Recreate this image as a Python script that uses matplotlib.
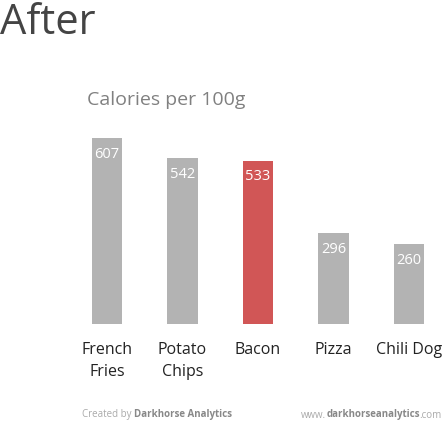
import matplotlib.pyplot as plt

# Chart data
foods = ['French\nFries', 'Potato\nChips', 'Bacon', 'Pizza', 'Chili Dog']
calories = [607, 542, 533, 296, 260]
highlight = 'Bacon'

plt.rcParams['font.family'] = ['Open Sans', 'DejaVu Sans']

fig = plt.figure(figsize=(4.43, 4.26), dpi=100)
ax = fig.add_axes([0.1563, 0.2394, 0.8437, 0.4671])

colors = ['#d15656' if f == highlight else '#b3b3b3' for f in foods]
x = list(range(len(foods)))
ax.bar(x, calories, width=0.4, color=colors)

for xi, v in zip(x, calories):
    ax.annotate(str(v), (xi, v), xytext=(0, -11.5), textcoords='offset points',
                ha='center', va='center', color='white', fontsize=10.5)

ax.set_xlim(-0.5, 4.45)
ax.set_ylim(0, 650)
ax.set_xticks(x)
ax.set_xticklabels(foods, fontsize=11.5, color='#222222', linespacing=1.5)
ax.tick_params(axis='x', length=0, pad=13)
ax.set_yticks([])
for s in ax.spines.values():
    s.set_visible(False)

fig.text(0.0, 0.995, 'After', fontsize=30, color='#444444', ha='left', va='top')
fig.text(0.196, 0.765, 'Calories per 100g', fontsize=14, color='#808080',
         ha='left', va='center')

# footer: pieces laid out one after another using measured widths
fy = 11  # pixels from bottom
r = fig.canvas.get_renderer()
W = fig.bbox.width

def piece(xpix, s, bold, ha):
    t = fig.text(xpix / W, fy / fig.bbox.height, s, fontsize=7,
                 color='#888888' if bold else '#aaaaaa', ha=ha, va='center',
                 fontweight='bold' if bold else 'normal')
    return t.get_window_extent(r)

bb = piece(82, 'Created by', False, 'left')
piece(bb.x1 + 3, 'Darkhorse Analytics', True, 'left')
bb = piece(442, '.com', False, 'right')
bb = piece(bb.x0, 'darkhorseanalytics', True, 'right')
piece(bb.x0, 'www.', False, 'right')

fig.savefig('out.png', dpi=100)
